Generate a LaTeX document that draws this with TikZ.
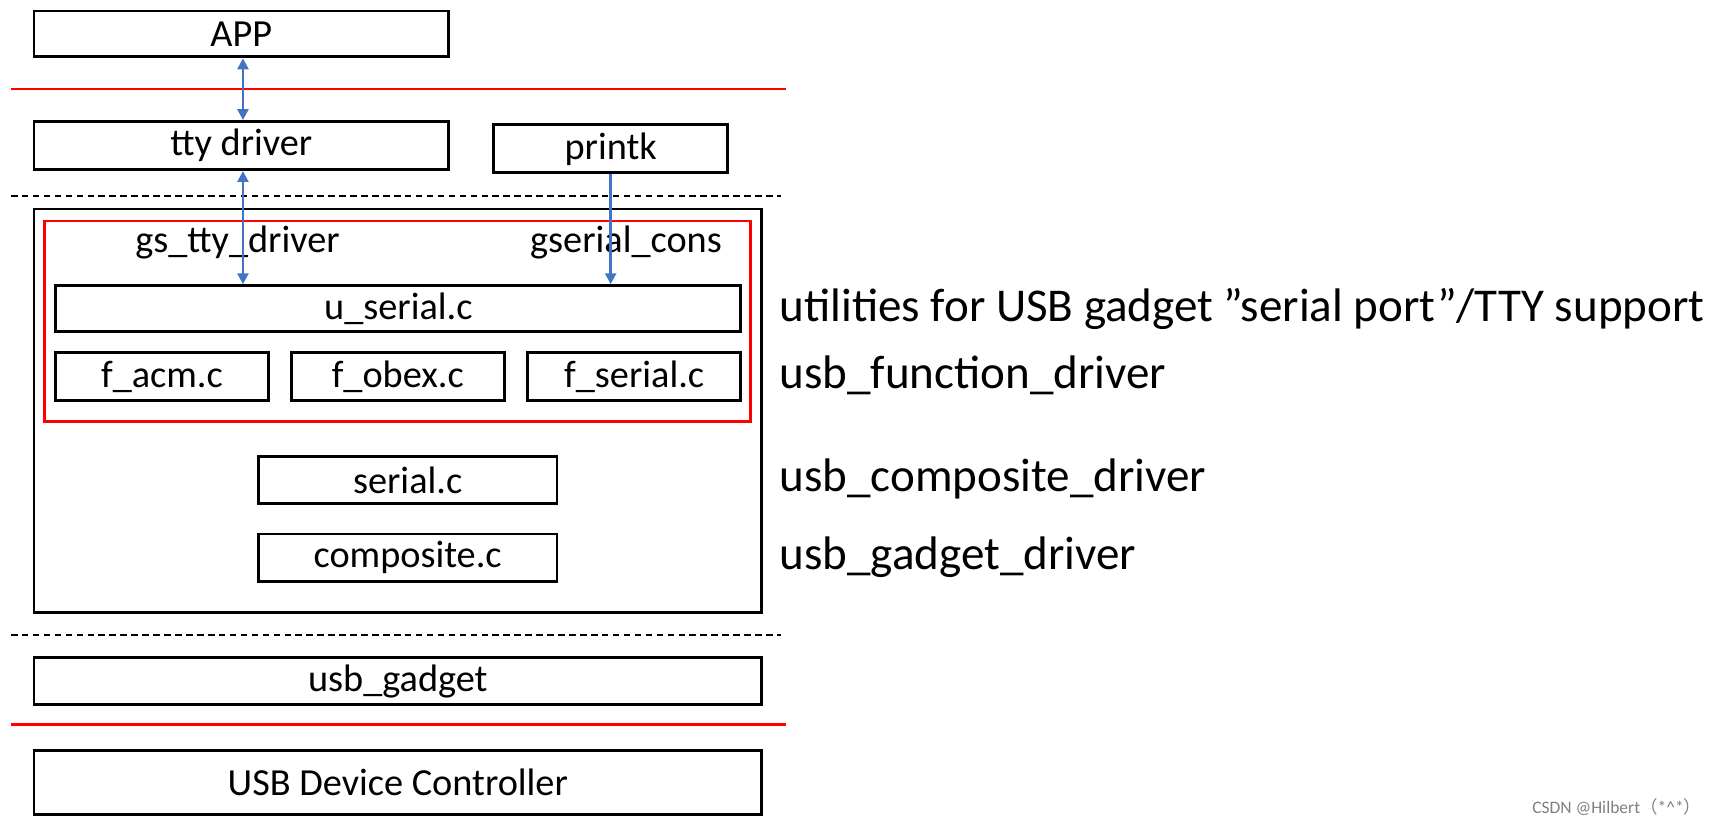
\documentclass[tikz,border=0pt]{standalone}
\usepackage{fontspec}
\setmainfont{Carlito}
\newfontfamily\cjk{Noto Sans CJK SC}
\usetikzlibrary{arrows.meta}
\definecolor{ablue}{RGB}{68,114,196}
\begin{document}
\begin{tikzpicture}[x=0.5pt,y=-0.5pt,
 bx/.style={draw,line width=1.3pt,inner sep=0,font=\fontsize{17.5}{19}\selectfont},
 lbl/.style={anchor=west,inner sep=0,font=\fontsize{21.5}{23}\selectfont},
 arr/.style={draw=ablue,line width=1.2pt,-{Triangle[length=5pt,width=5pt]}},
 darr/.style={arr,{Triangle[length=5pt,width=5pt]}-{Triangle[length=5pt,width=5pt]}}]
\useasboundingbox (0,0) rectangle (1568,755);
\newcommand\bxn[6]{\node[bx,minimum width={(#4-#2)*0.5pt},minimum height={(#5-#3)*0.5pt}] (#1) at ({(#2+#4)/2},{(#3+#5)/2}) {#6};}
\bxn{app}{31}{10}{410}{52}{APP}
\bxn{tty}{31}{111}{410}{155}{tty driver}
\bxn{printk}{451}{114}{665}{158}{printk}
\node[draw,line width=1.3pt,minimum width=332.5pt,minimum height=184.5pt,inner sep=0] (outer) at (363.5,375.5) {};
\node[draw=red,line width=1.3pt,minimum width=322.5pt,minimum height=91.5pt,inner sep=0] (redbox) at (363.5,293.5) {};
\bxn{userial}{51}{261}{677}{303}{u\_serial.c}
\bxn{facm}{51}{322}{245}{366}{f\_acm.c}
\bxn{fobex}{266}{322}{461}{366}{f\_obex.c}
\bxn{fserial}{482}{322}{677}{366}{f\_serial.c}
\bxn{serial}{236}{417}{509}{460}{serial.c}
\bxn{comp}{236}{488}{509}{531}{composite.c}
\bxn{gadget}{31}{601}{696}{644}{usb\_gadget}
\bxn{udc}{31}{686}{696}{744}{USB Device Controller}
\node[inner sep=0,font=\fontsize{17.5}{19}\selectfont] (gtty) at (217,222) {gs\_tty\_driver};
\node[inner sep=0,font=\fontsize{17.5}{19}\selectfont] (gcons) at (572,222) {gserial\_cons};
\coordinate (r1a) at (10,81); \coordinate (r1b) at (718,81);
\coordinate (r2a) at (10,662); \coordinate (r2b) at (718,662);
\coordinate (d1a) at (10,179); \coordinate (d1b) at (714,179);
\coordinate (d2a) at (10,580); \coordinate (d2b) at (714,580);
\draw[red,line width=1pt] (r1a)--(r1b); \draw[red,line width=1pt] (r2a)--(r2b);
\draw[line width=1pt,dash pattern=on 3pt off 2pt] (d1a)--(d1b);
\draw[line width=1pt,dash pattern=on 3pt off 2pt] (d2a)--(d2b);
\draw[darr] (app.south-|222,0) -- (tty.north-|222,0);
\draw[darr] (tty.south-|222,0) -- (userial.north-|222,0);
\draw[arr] (printk.south-|558,0) -- (userial.north-|558,0);
\node[lbl] (l1) at (712,282) {utilities for USB gadget \symbol{34}serial port\symbol{34}/TTY support};
\node[lbl] (l2) at (712,343) {usb\_function\_driver};
\node[lbl] (l3) at (712,438) {usb\_composite\_driver};
\node[lbl] (l4) at (712,509) {usb\_gadget\_driver};
\node[anchor=east,inner sep=0,text=gray,font=\fontsize{8}{9}\selectfont] (wm) at (1555,737) {CSDN @Hilbert{\cjk（}*\^{}*{\cjk）}};
\end{tikzpicture}
\end{document}
